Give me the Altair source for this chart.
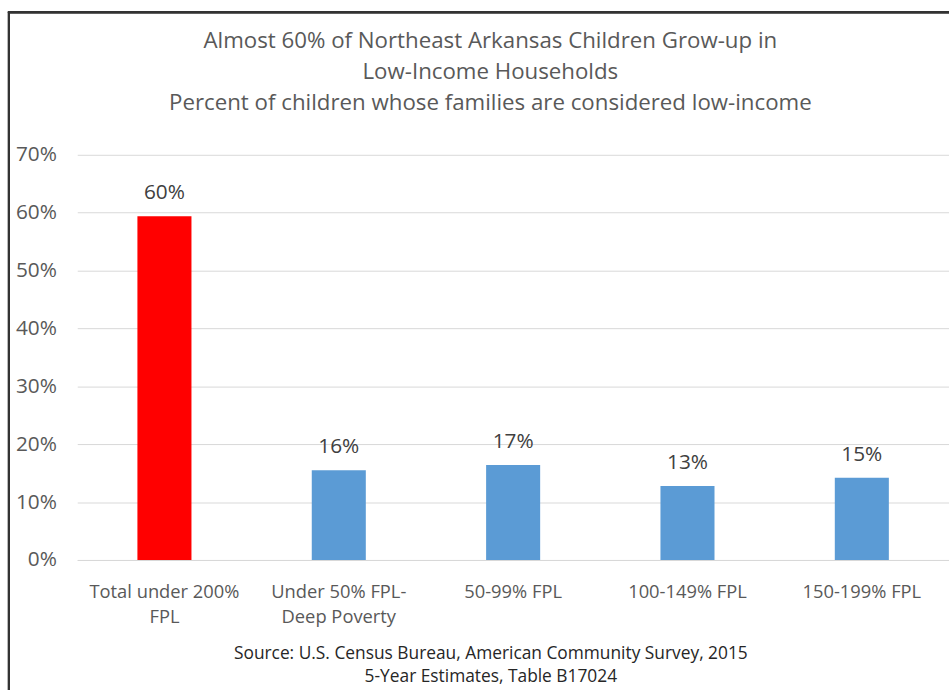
import altair as alt
import pandas as pd

categories = ["Total under 200% FPL", "Under 50% FPL-Deep Poverty", "50-99% FPL",
              "100-149% FPL", "150-199% FPL"]
values = [0.594, 0.155, 0.164, 0.128, 0.142]
value_labels = ["60%", "16%", "17%", "13%", "15%"]
colors = ["#FF0000", "#5B9BD5", "#5B9BD5", "#5B9BD5", "#5B9BD5"]
title_lines = ["Almost 60% of Northeast Arkansas Children Grow-up in",
               "Low-Income Households",
               "Percent of children whose families are considered low-income"]
source_lines = ["Source: U.S. Census Bureau, American Community Survey, 2015",
                "5-Year Estimates, Table B17024"]

df = pd.DataFrame({"cat": categories, "val": values, "lab": value_labels, "col": colors})

FONT = "Open Sans"
W, H = 880, 409

label_expr = ("datum.label == 'Total under 200% FPL' ? ['Total under 200%', 'FPL'] : "
              "datum.label == 'Under 50% FPL-Deep Poverty' ? ['Under 50% FPL-', 'Deep Poverty'] : datum.label")

x = alt.X("cat:N", sort=categories,
          scale=alt.Scale(paddingInner=0.69, paddingOuter=0.345),
          axis=alt.Axis(title=source_lines, labelAngle=0, labelExpr=label_expr,
                        labelFont=FONT, labelFontSize=18.5, labelColor="#595959",
                        labelPadding=23, labelLineHeight=25,
                        ticks=False, domainColor="#d9d9d9",
                        titleFont=FONT, titleFontSize=17.5, titleFontWeight="normal",
                        titleColor="#262626", titleX=417, titleY=99, titleAlign="center",
                        titleLineHeight=24, titleBaseline="alphabetic"))
y = alt.Y("val:Q", scale=alt.Scale(domain=[0, 0.7]),
          axis=alt.Axis(title=None, format=".0%", values=[0, .1, .2, .3, .4, .5, .6, .7],
                        labelFont=FONT, labelFontSize=21, labelColor="#595959",
                        labelPadding=21, ticks=False, domain=False,
                        gridColor="#d9d9d9"))

bars = alt.Chart(df).mark_bar().encode(
    x=x, y=y, color=alt.Color("col:N", scale=None))
texts = alt.Chart(df).mark_text(font=FONT, fontSize=21, color="#404040",
                                baseline="alphabetic", dy=-17).encode(
    x=alt.X("cat:N", sort=categories), y="val:Q", text="lab:N")

left_border = alt.Chart(df).mark_rule(color="#333333", strokeWidth=2).encode(
    x=alt.value(-69), y=alt.value(-144), y2=alt.value(560))
top_border = alt.Chart(df).mark_rule(color="#333333", strokeWidth=2).encode(
    x=alt.value(-70), x2=alt.value(W + 10), y=alt.value(-144))

chart = alt.layer(bars, texts, left_border, top_border).properties(
    width=W, height=H,
    autosize=alt.AutoSizeParams(type="none"),
    padding={"left": 78, "top": 153, "right": 0, "bottom": 128},
    title=alt.Title(title_lines, anchor="middle", dx=-23, offset=-104,
                    font=FONT, fontSize=22.5, fontWeight="normal",
                    color="#595959", lineHeight=31),
).configure_view(stroke=None)

chart.save("out.html", embed_options={"renderer": "svg", "actions": False})
